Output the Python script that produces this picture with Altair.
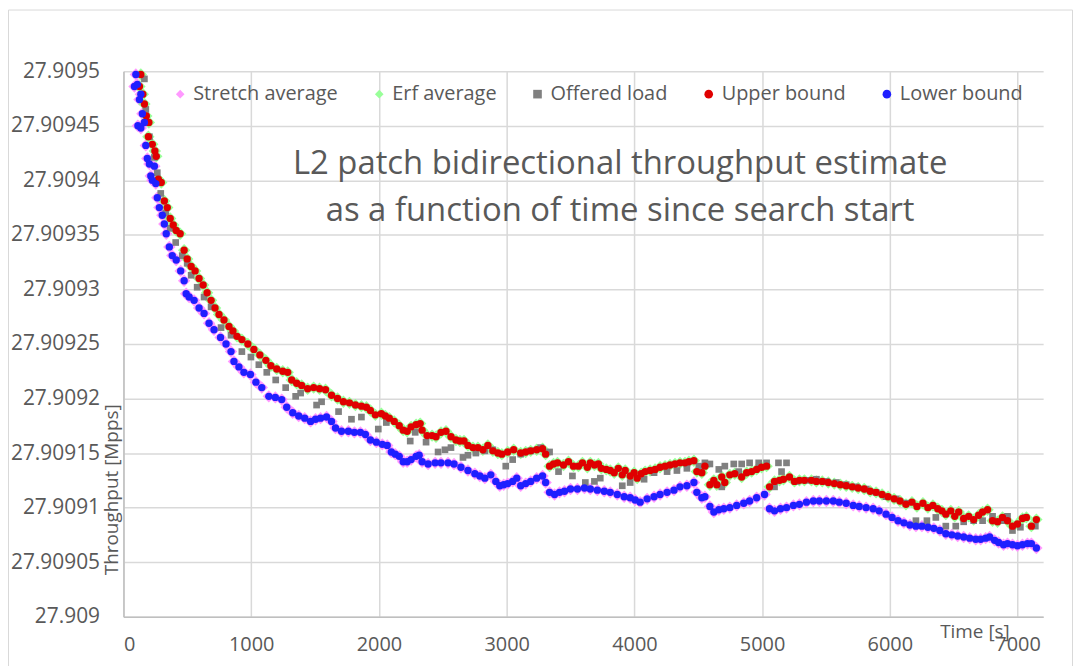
import altair as alt
import pandas as pd

SERIES = ["Stretch average", "Erf average", "Offered load", "Upper bound", "Lower bound"]
COLORS = ["#ff99ff", "#99ff99", "#808080", "#e00000", "#1f1fff"]
SHAPES = ["diamond", "diamond", "square", "circle", "circle"]
SIZES = [155, 155, 45, 55, 55]

X_TICKS = [0, 1000, 2000, 3000, 4000, 5000, 6000, 7000]
Y_TICKS = [27.909, 27.90905, 27.9091, 27.90915, 27.9092, 27.90925,
           27.9093, 27.90935, 27.9094, 27.90945, 27.9095]

upper_x = [136, 125, 152, 164, 179, 199, 195, 226, 246, 257,
           273, 296, 320, 343, 366, 390, 413, 444, 475, 499,
           530, 561, 592, 624, 655, 686, 717, 748, 787, 826,
           857, 889, 927, 974, 1021, 1068, 1115, 1154, 1200, 1247,
           1286, 1317, 1356, 1395, 1442, 1489, 1535, 1582, 1629, 1676,
           1722, 1769, 1816, 1863, 1902, 1933, 1972, 2019, 2050, 2081,
           2120, 2159, 2190, 2221, 2252, 2291, 2323, 2338, 2377, 2416,
           2447, 2486, 2525, 2564, 2603, 2634, 2666, 2697, 2736, 2775,
           2814, 2853, 2892, 2931, 2962, 3008, 3055, 3110, 3149, 3188,
           3235, 3281, 3305, 3336, 3367, 3398, 3445, 3484, 3523, 3562,
           3593, 3632, 3655, 3687, 3718, 3741, 3780, 3811, 3842, 3874,
           3905, 3928, 3967, 3998, 4022, 4053, 4084, 4123, 4162, 4201,
           4240, 4279, 4318, 4357, 4396, 4427, 4466, 4489, 4528, 4552,
           4591, 4622, 4645, 4684, 4708, 4747, 4786, 4840, 4879, 4918,
           4957, 4996, 5035, 5058, 5097, 5136, 5167, 5214, 5253, 5292,
           5331, 5386, 5425, 5471, 5518, 5565, 5612, 5658, 5705, 5752,
           5799, 5846, 5892, 5939, 5986, 6033, 6079, 6126, 6173, 6212,
           6259, 6298, 6337, 6375, 6407, 6438, 6477, 6508, 6539, 6578,
           6617, 6656, 6695, 6726, 6765, 6804, 6843, 6882, 6921, 6960,
           6999, 7038, 7069, 7108, 7147]
upper_y = [27.909497, 27.909486, 27.909479, 27.909470, 27.909459, 27.909453, 27.909440, 27.909433, 27.909427, 27.909422,
           27.909401, 27.909398, 27.909381, 27.909375, 27.909365, 27.909359, 27.909354, 27.909351, 27.909336, 27.909328,
           27.909321, 27.909317, 27.909310, 27.909304, 27.909297, 27.909290, 27.909283, 27.909277, 27.909272, 27.909266,
           27.909262, 27.909257, 27.909254, 27.909250, 27.909245, 27.909240, 27.909235, 27.909230, 27.909227, 27.909225,
           27.909224, 27.909217, 27.909214, 27.909212, 27.909209, 27.909210, 27.909209, 27.909208, 27.909203, 27.909200,
           27.909197, 27.909196, 27.909194, 27.909193, 27.909192, 27.909189, 27.909185, 27.909186, 27.909184, 27.909182,
           27.909179, 27.909175, 27.909171, 27.909170, 27.909174, 27.909176, 27.909177, 27.909171, 27.909166, 27.909166,
           27.909165, 27.909169, 27.909170, 27.909165, 27.909162, 27.909161, 27.909161, 27.909157, 27.909155, 27.909155,
           27.909153, 27.909157, 27.909152, 27.909150, 27.909149, 27.909151, 27.909153, 27.909150, 27.909151, 27.909152,
           27.909153, 27.909154, 27.909149, 27.909138, 27.909140, 27.909141, 27.909139, 27.909142, 27.909138, 27.909138,
           27.909141, 27.909137, 27.909141, 27.909139, 27.909140, 27.909136, 27.909135, 27.909134, 27.909132, 27.909136,
           27.909130, 27.909134, 27.909129, 27.909132, 27.909127, 27.909131, 27.909133, 27.909134, 27.909135, 27.909137,
           27.909138, 27.909139, 27.909140, 27.909141, 27.909141, 27.909142, 27.909143, 27.909133, 27.909132, 27.909138,
           27.909121, 27.909125, 27.909121, 27.909128, 27.909123, 27.909130, 27.909131, 27.909128, 27.909132, 27.909133,
           27.909135, 27.909137, 27.909138, 27.909119, 27.909124, 27.909125, 27.909126, 27.909128, 27.909124, 27.909125,
           27.909125, 27.909125, 27.909124, 27.909124, 27.909123, 27.909122, 27.909121, 27.909120, 27.909119, 27.909118,
           27.909117, 27.909115, 27.909114, 27.909112, 27.909110, 27.909108, 27.909106, 27.909103, 27.909105, 27.909101,
           27.909104, 27.909100, 27.909102, 27.909099, 27.909097, 27.909094, 27.909097, 27.909092, 27.909096, 27.909090,
           27.909092, 27.909089, 27.909093, 27.909096, 27.909098, 27.909088, 27.909087, 27.909091, 27.909088, 27.909083,
           27.909085, 27.909090, 27.909091, 27.909083, 27.909089]

lower_x = [97, 86, 109, 136, 125, 148, 164, 113, 136, 175,
           187, 203, 242, 214, 226, 253, 265, 281, 304, 320,
           335, 359, 382, 413, 448, 475, 491, 514, 553, 592,
           631, 670, 709, 760, 803, 842, 865, 904, 943, 994,
           1037, 1083, 1138, 1189, 1239, 1278, 1325, 1372, 1419, 1465,
           1504, 1543, 1590, 1629, 1660, 1707, 1761, 1808, 1855, 1894,
           1933, 1980, 2026, 2065, 2097, 2128, 2159, 2190, 2221, 2252,
           2291, 2315, 2338, 2385, 2440, 2486, 2541, 2588, 2642, 2697,
           2751, 2790, 2829, 2876, 2915, 2946, 2977, 3008, 3047, 3079,
           3110, 3149, 3188, 3235, 3281, 3305, 3336, 3375, 3414, 3453,
           3500, 3554, 3609, 3655, 3710, 3764, 3811, 3866, 3920, 3967,
           4006, 4045, 4100, 4154, 4201, 4256, 4310, 4357, 4411, 4466,
           4489, 4528, 4552, 4591, 4622, 4661, 4700, 4747, 4801, 4856,
           4902, 4957, 5019, 5058, 5097, 5144, 5191, 5245, 5292, 5347,
           5401, 5448, 5503, 5557, 5604, 5658, 5713, 5760, 5814, 5869,
           5916, 5970, 6017, 6064, 6110, 6157, 6204, 6251, 6298, 6344,
           6391, 6438, 6485, 6531, 6578, 6625, 6672, 6711, 6750, 6781,
           6820, 6851, 6890, 6921, 6960, 6999, 7038, 7077, 7108, 7147]
lower_y = [27.909497, 27.909486, 27.909488, 27.909479, 27.909474, 27.909461, 27.909453, 27.909450, 27.909448, 27.909432,
           27.909420, 27.909415, 27.909413, 27.909404, 27.909400, 27.909397, 27.909384, 27.909375, 27.909368, 27.909360,
           27.909351, 27.909339, 27.909331, 27.909327, 27.909317, 27.909308, 27.909296, 27.909293, 27.909290, 27.909283,
           27.909278, 27.909269, 27.909263, 27.909256, 27.909250, 27.909243, 27.909234, 27.909229, 27.909224, 27.909222,
           27.909215, 27.909210, 27.909202, 27.909201, 27.909199, 27.909192, 27.909187, 27.909184, 27.909182, 27.909179,
           27.909181, 27.909182, 27.909183, 27.909179, 27.909173, 27.909170, 27.909170, 27.909169, 27.909169, 27.909167,
           27.909162, 27.909160, 27.909158, 27.909157, 27.909151, 27.909149, 27.909147, 27.909142, 27.909142, 27.909144,
           27.909147, 27.909148, 27.909142, 27.909140, 27.909141, 27.909141, 27.909141, 27.909140, 27.909137, 27.909134,
           27.909131, 27.909129, 27.909127, 27.909130, 27.909124, 27.909120, 27.909121, 27.909122, 27.909124, 27.909127,
           27.909120, 27.909122, 27.909124, 27.909127, 27.909129, 27.909123, 27.909114, 27.909112, 27.909114, 27.909115,
           27.909117, 27.909117, 27.909118, 27.909117, 27.909116, 27.909115, 27.909114, 27.909112, 27.909110, 27.909109,
           27.909107, 27.909105, 27.909108, 27.909110, 27.909112, 27.909114, 27.909116, 27.909119, 27.909120, 27.909123,
           27.909114, 27.909109, 27.909110, 27.909101, 27.909096, 27.909098, 27.909099, 27.909100, 27.909102, 27.909104,
           27.909106, 27.909109, 27.909112, 27.909099, 27.909097, 27.909099, 27.909100, 27.909102, 27.909103, 27.909105,
           27.909106, 27.909106, 27.909106, 27.909106, 27.909105, 27.909104, 27.909102, 27.909101, 27.909100, 27.909099,
           27.909097, 27.909094, 27.909091, 27.909088, 27.909086, 27.909084, 27.909083, 27.909083, 27.909082, 27.909081,
           27.909079, 27.909076, 27.909075, 27.909074, 27.909073, 27.909072, 27.909071, 27.909071, 27.909072, 27.909073,
           27.909070, 27.909068, 27.909066, 27.909067, 27.909066, 27.909065, 27.909066, 27.909067, 27.909067, 27.909063]

offered_x = [164, 175, 170, 203, 242, 265, 292, 331, 366, 409,
             460, 499, 530, 577, 631, 686, 764, 842, 927, 998,
             1060, 1122, 1192, 1270, 1348, 1387, 1512, 1551, 1684, 1785,
             1863, 1995, 2058, 2245, 2284, 2369, 2463, 2517, 2564, 2658,
             2697, 2759, 2829, 2892, 2993, 3047, 3110, 3188, 3266, 3336,
             3406, 3515, 3616, 3687, 3733, 3905, 3967, 4076, 4154, 4256,
             4333, 4411, 4505, 4552, 4591, 4661, 4684, 4708, 4778, 4817,
             4840, 4902, 4973, 5035, 5097, 5128, 5152, 5191, 5269, 5347,
             5425, 5503, 5580, 5658, 5736, 5814, 5892, 5970, 6048, 6126,
             6204, 6290, 6360, 6438, 6516, 6578, 6656, 6726, 6804, 6882,
             6921, 6960, 7022, 7061, 7139]
offered_y = [27.909493, 27.909465, 27.909453, 27.909440, 27.909421, 27.909407, 27.909388, 27.909370, 27.909356, 27.909343,
             27.909331, 27.909324, 27.909313, 27.909302, 27.909293, 27.909284, 27.909265, 27.909258, 27.909243, 27.909238,
             27.909231, 27.909224, 27.909217, 27.909210, 27.909202, 27.909205, 27.909194, 27.909197, 27.909188, 27.909181,
             27.909183, 27.909172, 27.909178, 27.909161, 27.909169, 27.909160, 27.909151, 27.909153, 27.909155, 27.909146,
             27.909148, 27.909150, 27.909152, 27.909153, 27.909138, 27.909144, 27.909149, 27.909152, 27.909155, 27.909151,
             27.909133, 27.909129, 27.909123, 27.909124, 27.909127, 27.909120, 27.909123, 27.909126, 27.909132, 27.909133,
             27.909134, 27.909136, 27.909138, 27.909141, 27.909140, 27.909135, 27.909119, 27.909138, 27.909140, 27.909133,
             27.909140, 27.909141, 27.909141, 27.909141, 27.909119, 27.909141, 27.909133, 27.909141, 27.909124, 27.909125,
             27.909126, 27.909124, 27.909123, 27.909121, 27.909119, 27.909117, 27.909114, 27.909110, 27.909108, 27.909104,
             27.909088, 27.909088, 27.909091, 27.909083, 27.909083, 27.909087, 27.909088, 27.909088, 27.909092, 27.909088,
             27.909092, 27.909079, 27.909082, 27.909091, 27.909083]

# The two averages sit on the bounds in the picture (drawn underneath them)
stretch_x, stretch_y = lower_x, lower_y
erf_x, erf_y = upper_x, upper_y

rows = []
for i, (xs, ys) in enumerate([(stretch_x, stretch_y), (erf_x, erf_y), (offered_x, offered_y),
                              (upper_x, upper_y), (lower_x, lower_y)]):
    for t, v in zip(xs, ys, strict=True):
        rows.append({"series": SERIES[i], "t": t, "v": v, "msize": SIZES[i]})
df = pd.DataFrame(rows)

FONT = "Open Sans"
TXT = "#595959"

legend = alt.Legend(
    title=None, orient="none", legendX=47, legendY=13, direction="horizontal",
    labelFontSize=20, labelColor=TXT, labelFont=FONT, columnPadding=31,
    labelOffset=3, symbolStrokeWidth=0, symbolOpacity=1, symbolSize=75, labelLimit=400,
)

points = alt.Chart(df).mark_point(filled=True, opacity=1).encode(
    x=alt.X("t:Q", scale=alt.Scale(domain=[0, 7200], nice=False, zero=False),
            axis=alt.Axis(values=X_TICKS, title="Time [s]", format="d",
                          titleX=855, titleY=15, titleAlign="center", titleBaseline="middle")),
    y=alt.Y("v:Q", scale=alt.Scale(domain=[27.909, 27.9095], nice=False, zero=False),
            axis=alt.Axis(values=Y_TICKS, format=".5~f", title="Throughput [Mpps]",
                          titleAngle=270, titleX=-12, titleY=420, titleAlign="center",
                          titleBaseline="middle", labelFontSize=21)),
    color=alt.Color("series:N", scale=alt.Scale(domain=SERIES, range=COLORS), legend=legend),
    shape=alt.Shape("series:N", scale=alt.Scale(domain=SERIES, range=SHAPES), legend=legend),
    size=alt.Size("msize:Q", scale=None, legend=None),
)

border = alt.Chart(alt.Data(values=[{}])).mark_rect(
    fillOpacity=0, stroke="#d9d9d9", strokeWidth=1
).encode(x=alt.value(-115.5), x2=alt.value(953.5), y=alt.value(-61.5), y2=alt.value(700))

title = alt.Chart(alt.Data(values=[{}])).mark_text(
    lineBreak="\n", font=FONT, fontSize=33, color=TXT, align="center",
    baseline="middle", lineHeight=47
).encode(
    x=alt.value(499), y=alt.value(93),
    text=alt.value("L2 patch bidirectional throughput estimate\nas a function of time since search start"),
)

chart = alt.layer(border, points, title).properties(
    width=924, height=548, autosize="none",
    padding={"left": 116, "top": 62, "right": 30, "bottom": 48},
).configure(font=FONT).configure_view(strokeWidth=0).configure_axis(
    labelFont=FONT, labelFontSize=20, labelColor=TXT, ticks=False, tickSize=0,
    domainColor="#bfbfbf", domainWidth=1.5, gridColor="#d9d9d9", gridWidth=1.5,
    titleFont=FONT, titleFontSize=19, titleFontWeight="normal", titleColor=TXT,
).configure_axisY(labelPadding=24).configure_axisX(labelPadding=18)

chart.save("out.html", embed_options={"renderer": "svg", "actions": False})
